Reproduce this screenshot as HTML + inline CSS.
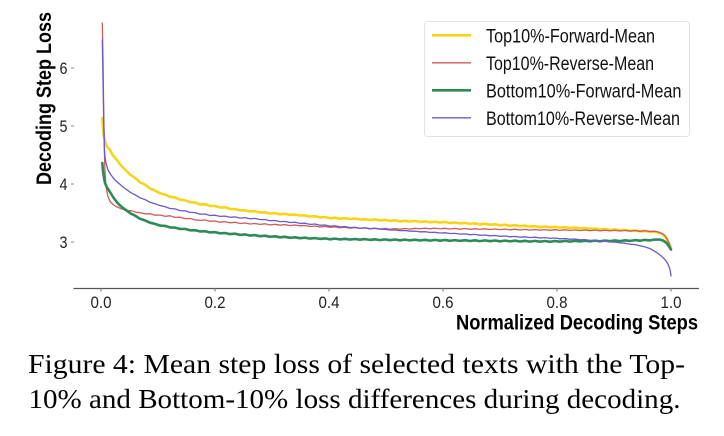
<!DOCTYPE html>
<html>
<head>
<meta charset="utf-8">
<style>
  html,body{margin:0;padding:0;background:#fff;}
  body{width:724px;height:436px;overflow:hidden;}
  svg{display:block;}
  .tick{font-family:"Liberation Sans",sans-serif;font-size:17px;fill:#222;}
  .leg{font-family:"Liberation Sans",sans-serif;font-size:19px;fill:#111;}
  .lab{font-family:"Liberation Sans",sans-serif;font-size:21px;font-weight:bold;fill:#000;}
  .cap{font-family:"Liberation Serif",serif;font-size:27px;fill:#000;}
</style>
</head>
<body>
<svg width="724" height="436" viewBox="0 0 724 436" xmlns="http://www.w3.org/2000/svg">
  <rect width="724" height="436" fill="#fff"/>

  <!-- y ticks -->
  <g stroke="#888" stroke-width="1">
    <line x1="71" y1="68" x2="74" y2="68"/>
    <line x1="71" y1="126" x2="74" y2="126"/>
    <line x1="71" y1="184" x2="74" y2="184"/>
    <line x1="71" y1="242" x2="74" y2="242"/>
  </g>
  <g class="tick">
    <text x="59.5" y="74" textLength="8" lengthAdjust="spacingAndGlyphs">6</text>
    <text x="59.5" y="132" textLength="8" lengthAdjust="spacingAndGlyphs">5</text>
    <text x="59.5" y="190" textLength="8" lengthAdjust="spacingAndGlyphs">4</text>
    <text x="59.5" y="248" textLength="8" lengthAdjust="spacingAndGlyphs">3</text>
  </g>

  <!-- x axis -->
  <line x1="73.5" y1="288.5" x2="699" y2="288.5" stroke="#555" stroke-width="1.2"/>
  <g stroke="#777" stroke-width="1">
    <line x1="101" y1="288" x2="101" y2="291.5"/>
    <line x1="215" y1="288" x2="215" y2="291.5"/>
    <line x1="329" y1="288" x2="329" y2="291.5"/>
    <line x1="443" y1="288" x2="443" y2="291.5"/>
    <line x1="557" y1="288" x2="557" y2="291.5"/>
    <line x1="671" y1="288" x2="671" y2="291.5"/>
  </g>
  <g class="tick" text-anchor="middle">
    <text x="101" y="308" textLength="21" lengthAdjust="spacingAndGlyphs">0.0</text>
    <text x="215" y="308" textLength="21" lengthAdjust="spacingAndGlyphs">0.2</text>
    <text x="329" y="308" textLength="21" lengthAdjust="spacingAndGlyphs">0.4</text>
    <text x="443" y="308" textLength="21" lengthAdjust="spacingAndGlyphs">0.6</text>
    <text x="557" y="308" textLength="21" lengthAdjust="spacingAndGlyphs">0.8</text>
    <text x="671" y="308" textLength="21" lengthAdjust="spacingAndGlyphs">1.0</text>
  </g>

  <!-- axis labels -->
  <text class="lab" x="456" y="329.5" textLength="242" lengthAdjust="spacingAndGlyphs">Normalized Decoding Steps</text>
  <text class="lab" transform="translate(51,185) rotate(-90)" x="0" y="0" font-size="20" textLength="173" lengthAdjust="spacingAndGlyphs">Decoding Step Loss</text>

  <!-- series -->
  <g fill="none" stroke-linejoin="round" stroke-linecap="round">
    <polyline stroke="#F7D417" stroke-width="2.6" points="102.3,118 103,128 104,137 105.5,143 107,146.5 110,150 113,155.5 117,160 121,165.5 125,169.5 130,174.5 135,177.8 140,182.3 145,184.6 150,188.4 155,190.5 160,193.2 165,194.6 170,196.8 175,197.4 180,199.6 185,200.3 190,202.2 195,202.5 200,204.4 205,204.3 210,205.9 215,206 220,207.5 225,207.3 230,208.9 235,209 240,210.4 245,210.2 250,211.5 255,211.2 260,212.6 265,212.3 270,213.5 275,213.1 280,214.3 285,213.8 290,214.9 295,214.6 300,215.5 305,215.4 310,216.6 315,216.2 320,217.4 325,217 330,218.3 335,217.7 340,218.8 345,218.2 350,219 355,218.6 360,219.4 365,219.2 370,220 375,219.4 380,220.4 385,219.9 390,220.9 395,220.3 400,221.4 405,220.8 410,221.6 415,221 420,221.9 425,221.4 430,222.3 435,221.6 440,222.6 445,222 450,223 455,222.5 460,223.4 465,222.9 470,223.9 475,223.3 480,224.4 485,223.8 490,224.8 495,224.3 500,225.3 505,224.8 510,225.8 515,225.2 520,226.2 525,225.7 530,226.6 535,226.2 540,227.2 545,226.5 550,227.4 555,226.8 560,227.6 565,227.2 570,228 575,227.5 580,228.4 585,228 590,228.9 595,228.5 600,229.4 605,229 610,229.9 615,229.4 620,230.4 625,229.9 630,230.9 635,230.4 640,231.4 645,230.9 650,231.8 655,231.7 660,233 663,234.5 665,236.5 667,239.5 669,243.5 671,248"/>
    <polyline stroke="#CD5C5C" stroke-width="1.3" points="102.3,23 103,60 103.7,110 104.3,150 105,172 106,186 107,192 108,196.5 110,201.5 113,204.5 116,206.5 120,208.2 124,209.6 128,210.5 132,210.8 136,212.3 140,212.6 145,213.9 150,213.7 155,215.2 160,215 165,216.3 170,215.8 175,217.4 180,217.2 185,218.6 190,218.5 195,219.8 200,220.4 205,220 210,221.3 215,221 220,222.2 225,221.6 230,222.8 235,222.3 240,223.5 245,223 250,224 255,223.5 260,224.4 265,223.8 270,224.9 275,224.3 280,225.2 285,224.6 290,225.6 295,225 300,225.8 305,225.5 310,226.5 315,226 320,227 325,226.4 330,227.3 335,226.8 340,227.7 345,227.2 350,228.2 355,227.6 360,228.4 365,227.9 370,228.8 375,228.2 380,229 385,228.4 390,229.3 395,228.6 400,229.2 405,228.5 410,229.1 415,228.3 420,228.9 425,228.2 430,228.8 435,228.1 440,228.9 445,228.3 450,229 455,228.4 460,229.2 465,228.5 470,229.3 475,228.7 480,229.4 485,228.8 490,229.5 495,228.9 500,229.6 505,229 510,229.8 515,229.2 520,230 525,229.4 530,230.1 535,229.5 540,230.2 545,229.6 550,230.3 555,229.7 560,230.4 565,229.8 570,230.5 575,229.9 580,230.6 585,230 590,230.7 595,230.1 600,230.8 605,230.2 610,230.9 615,230.3 620,231 625,230.4 630,231.1 635,230.5 640,231.3 645,230.7 650,231.5 655,231.2 659,232.3 662,233.5 665,235.5 667,238.5 669,243 671,249"/>
    <polyline stroke="#2E8B57" stroke-width="2.6" points="102.3,163 103,171 104,178 105,183 107,187.5 110,192 113,197 116,201 119,204.5 123,208 127,210.8 131,213.7 135,215.6 140,218.8 145,220.4 150,222.7 155,223.9 160,225.6 165,225.9 170,227.4 175,227.6 180,229 185,228.9 190,230.3 195,230.2 200,231.4 205,231.2 210,232.4 215,232.1 220,233.3 225,233 230,234.1 235,233.7 240,234.9 245,234.4 250,235.6 255,235.1 260,236.2 265,235.7 270,236.8 275,236.3 280,237.3 285,236.8 290,237.8 295,237.3 300,238.2 305,237.7 310,238.6 315,238.1 320,238.9 325,238.4 330,239.3 335,238.6 340,239.4 345,238.8 350,239.6 355,239 360,239.7 365,239.1 370,239.9 375,239.3 380,240.1 385,239.4 390,240.2 395,239.5 400,240.3 405,239.6 410,240.4 415,239.7 420,240.5 425,239.8 430,240.6 435,239.9 440,240.7 445,240 450,240.8 455,240.1 460,240.9 465,240.2 470,241 475,240.3 480,241.1 485,240.4 490,241.2 495,240.5 500,241.3 505,240.6 510,241.4 515,240.7 520,241.5 525,240.8 530,241.6 535,240.9 540,241.7 545,241 550,241.8 555,241 560,241.7 565,240.9 570,241.6 575,240.8 580,241.5 585,240.7 590,241.4 595,240.6 600,241.3 605,240.5 610,241.2 615,240.4 620,241.1 625,240.3 630,240.9 635,240.1 640,240.7 645,239.9 650,240.4 655,239.5 660,239.6 663,240.5 666,242.5 668,245 671,249.5"/>
    <polyline stroke="#6A5ACD" stroke-width="1.3" points="102.3,40 103,80 103.7,120 104.3,145 105,157 106,163 108,170 111,175 115,180 119,183.5 123,187 127,189.8 131,192.8 135,194.7 140,197.8 145,199.6 150,202.3 155,203.7 160,205.6 165,206.6 170,208.5 175,208.9 180,210.6 185,210.8 190,212.4 195,212.6 200,214.2 205,214 210,215.5 215,215.2 220,216.4 225,216.1 230,217.3 235,216.9 240,218.1 245,217.6 250,218.9 255,218.4 260,219.6 265,219.5 270,220.7 275,220.5 280,221.6 285,221.4 290,222.5 295,222.3 300,223.4 305,223.2 310,224.4 315,224 320,225.3 325,225 330,226.1 335,225.8 340,226.9 345,226.5 350,227.6 355,227.3 360,228.3 365,227.8 370,228.7 375,228.4 380,229.2 385,229.3 390,230 395,230 400,230.6 405,230.5 410,231.2 415,231.1 420,231.8 425,231.7 430,232.4 435,232.3 440,233 445,232.8 450,233.5 455,233.4 460,234.1 465,233.9 470,234.7 475,234.4 480,235.3 485,235 490,235.8 495,235.5 500,236.3 505,236 510,236.8 515,236.4 520,237.2 525,236.8 530,237.6 535,237.2 540,238 545,237.6 550,238.4 555,238 560,238.8 565,238.5 570,239.3 575,239 580,239.8 585,239.6 590,240.4 595,240.4 600,241.2 605,241.2 610,242 615,242.1 620,242.9 625,243.2 630,244.2 635,244.6 640,245.8 645,246.9 650,248.6 654,250.8 658,253.4 661,255.8 664,258.6 666,261 668,264 669.5,268 670.5,272 671,276"/>
  </g>

  <!-- legend -->
  <rect x="424.5" y="21.5" width="265" height="115" rx="3" ry="3" fill="#fff" fill-opacity="0.9" stroke="#e2e2e2" stroke-width="1"/>
  <line x1="432" y1="35.3" x2="471" y2="35.3" stroke="#F7D417" stroke-width="2.6"/>
  <line x1="432" y1="62.8" x2="471" y2="62.8" stroke="#CD5C5C" stroke-width="1.3"/>
  <line x1="432" y1="90.3" x2="471" y2="90.3" stroke="#2E8B57" stroke-width="2.6"/>
  <line x1="432" y1="117.8" x2="471" y2="117.8" stroke="#6A5ACD" stroke-width="1.3"/>
  <text class="leg" x="486" y="42.3" textLength="169" lengthAdjust="spacingAndGlyphs">Top10%-Forward-Mean</text>
  <text class="leg" x="486" y="69.8" textLength="168" lengthAdjust="spacingAndGlyphs">Top10%-Reverse-Mean</text>
  <text class="leg" x="486" y="97.3" textLength="195.5" lengthAdjust="spacingAndGlyphs">Bottom10%-Forward-Mean</text>
  <text class="leg" x="486" y="124.8" textLength="194" lengthAdjust="spacingAndGlyphs">Bottom10%-Reverse-Mean</text>

  <!-- caption -->
  <text class="cap" x="28" y="373" textLength="657" lengthAdjust="spacingAndGlyphs">Figure 4: Mean step loss of selected texts with the Top-</text>
  <text class="cap" x="28.5" y="408" textLength="652" lengthAdjust="spacingAndGlyphs">10% and Bottom-10% loss differences during decoding.</text>
</svg>
</body>
</html>
